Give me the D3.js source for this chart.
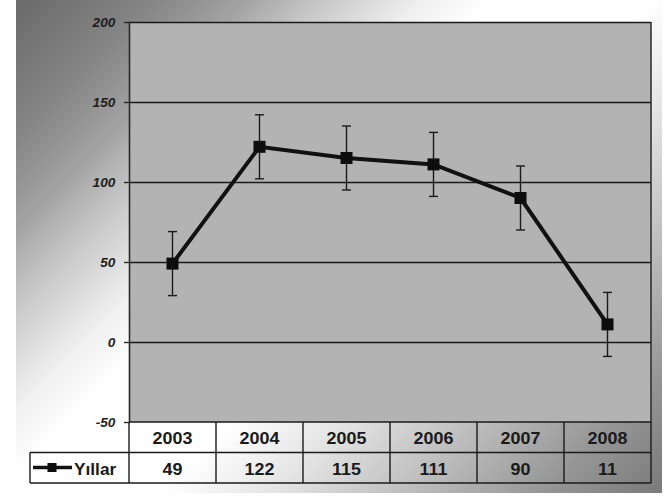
<!DOCTYPE html>
<html>
<head>
<meta charset="utf-8">
<script src="https://cdn.jsdelivr.net/npm/d3@7"></script>
<style>
  html, body { margin: 0; padding: 0; background: #ffffff; }
  svg { display: block; }
  text { font-family: "Liberation Sans", Arial, sans-serif; }
</style>
</head>
<body>
<svg id="chart" width="665" height="497"></svg>
<script>
// Yearly values with fixed ±20 error bars
const years = ["2003", "2004", "2005", "2006", "2007", "2008"];
const values = [49, 122, 115, 111, 90, 11];
const errors = [20, 20, 20, 20, 20, 20];
const yTicks = [-50, 0, 50, 100, 150, 200];
const seriesName = "Yıllar";

const svg = d3.select("#chart");
const W = 665, H = 497;

// Layout
const bg = { x: 16, y: 0, w: 646, h: 493 };
const plot = { left: 129, right: 651, top: 22, bottom: 422 };
const table = { legendLeft: 30, rowH: 30.5 };

// Diagonal grey-white-grey backdrop
const defs = svg.append("defs");
const grad = defs.append("linearGradient")
  .attr("id", "bgGrad")
  .attr("gradientUnits", "userSpaceOnUse")
  .attr("x1", bg.x).attr("y1", bg.y)
  .attr("x2", bg.x + 569).attr("y2", bg.y + 569);
[
  [0.00, "#6a6a6a"], [0.12, "#858585"], [0.20, "#a2a2a2"], [0.27, "#c8c8c8"],
  [0.36, "#f0f0f0"], [0.42, "#ffffff"], [0.56, "#ffffff"], [0.66, "#e4e4e4"],
  [0.75, "#c6c6c6"], [0.90, "#959595"], [1.00, "#7a7a7a"]
].forEach(([o, c]) => grad.append("stop").attr("offset", o).attr("stop-color", c));

svg.append("rect").attr("width", W).attr("height", H).attr("fill", "#ffffff");
svg.append("rect")
  .attr("x", bg.x).attr("y", bg.y).attr("width", bg.w).attr("height", bg.h)
  .attr("fill", "url(#bgGrad)");

// Scales
const x = d3.scaleBand().domain(years).range([plot.left, plot.right]).padding(0);
const y = d3.scaleLinear().domain([-50, 200]).range([plot.bottom, plot.top]);

// Plot area
svg.append("rect")
  .attr("x", plot.left).attr("y", plot.top)
  .attr("width", plot.right - plot.left).attr("height", plot.bottom - plot.top)
  .attr("fill", "#b3b3b3");

// Horizontal gridlines
const grid = svg.append("g")
  .attr("transform", `translate(${plot.left},0)`)
  .call(d3.axisLeft(y).tickValues(yTicks.filter(t => t > -50))
    .tickSize(-(plot.right - plot.left)).tickFormat(""));
grid.select(".domain").remove();
grid.selectAll(".tick line").attr("stroke", "#1a1a1a").attr("stroke-width", 1.6);

// Right border
svg.append("line")
  .attr("x1", plot.right).attr("x2", plot.right)
  .attr("y1", plot.top).attr("y2", plot.bottom)
  .attr("stroke", "#2a2a2a").attr("stroke-width", 1.5);

// Y axis with ticks and labels (plain hyphen for negatives)
const yAxis = svg.append("g")
  .attr("transform", `translate(${plot.left},0)`)
  .call(d3.axisLeft(y).tickValues(yTicks).tickSize(5).tickSizeOuter(0).tickPadding(8)
    .tickFormat(d => String(d)));
yAxis.select(".domain").attr("stroke", "#2a2a2a").attr("stroke-width", 1.6);
yAxis.selectAll(".tick line").attr("stroke", "#2a2a2a").attr("stroke-width", 1.4);
yAxis.selectAll(".tick text")
  .attr("font-size", 13)
  .attr("font-weight", "bold")
  .attr("font-style", "italic")
  .attr("fill", "#1e1e1e")
  .attr("dy", "0.36em")
  .attr("transform", "scale(1.05,1)");

// Error bars
const eb = svg.append("g");
years.forEach((yr, i) => {
  const cx = x(yr) + x.bandwidth() / 2;
  const yHi = y(values[i] + errors[i]);
  const yLo = y(values[i] - errors[i]);
  eb.append("line").attr("x1", cx).attr("x2", cx).attr("y1", yHi).attr("y2", yLo)
    .attr("stroke", "#1a1a1a").attr("stroke-width", 1.4);
  [yHi, yLo].forEach(yy => eb.append("line")
    .attr("x1", cx - 4.5).attr("x2", cx + 4.5).attr("y1", yy).attr("y2", yy)
    .attr("stroke", "#1a1a1a").attr("stroke-width", 1.4));
});

// Data line and square markers
const pts = years.map((yr, i) => [x(yr) + x.bandwidth() / 2, y(values[i])]);
svg.append("path")
  .attr("d", d3.line()(pts))
  .attr("fill", "none")
  .attr("stroke", "#111111")
  .attr("stroke-width", 4)
  .attr("stroke-linejoin", "miter");
svg.append("g").selectAll("rect").data(pts).join("rect")
  .attr("x", d => d[0] - 6).attr("y", d => d[1] - 6)
  .attr("width", 12).attr("height", 12)
  .attr("fill", "#0d0d0d");

// Data table beneath the plot
const row1Top = plot.bottom, row2Top = plot.bottom + table.rowH, row2Bot = plot.bottom + 2 * table.rowH;
const tg = svg.append("g");
const tStroke = "#1a1a1a";
// Horizontal rules
tg.append("line").attr("x1", plot.left).attr("x2", plot.right).attr("y1", row1Top).attr("y2", row1Top)
  .attr("stroke", tStroke).attr("stroke-width", 1.6);
tg.append("line").attr("x1", table.legendLeft).attr("x2", plot.right).attr("y1", row2Top).attr("y2", row2Top)
  .attr("stroke", tStroke).attr("stroke-width", 1.4);
tg.append("line").attr("x1", table.legendLeft).attr("x2", plot.right).attr("y1", row2Bot).attr("y2", row2Bot)
  .attr("stroke", tStroke).attr("stroke-width", 1.4);
// Vertical rules
const vx = years.map(yr => x(yr)).concat([plot.right]);
vx.forEach(xx => tg.append("line").attr("x1", xx).attr("x2", xx).attr("y1", row1Top).attr("y2", row2Bot)
  .attr("stroke", tStroke).attr("stroke-width", 1.4));
tg.append("line").attr("x1", table.legendLeft).attr("x2", table.legendLeft).attr("y1", row2Top).attr("y2", row2Bot)
  .attr("stroke", tStroke).attr("stroke-width", 1.4);

function cellText(txt, cx, baseline) {
  tg.append("text")
    .attr("transform", `translate(${cx},${baseline}) scale(1.12,1)`)
    .attr("text-anchor", "middle")
    .attr("font-size", 16)
    .attr("font-weight", "bold")
    .attr("fill", "#1a1a1a")
    .text(txt);
}
years.forEach((yr, i) => {
  const cx = x(yr) + x.bandwidth() / 2;
  cellText(yr, cx, row1Top + 22);
  cellText(String(values[i]), cx, row2Top + 22);
});

// Legend key in the table
const ly = row2Top + 15;
tg.append("line").attr("x1", 33).attr("x2", 72).attr("y1", ly).attr("y2", ly)
  .attr("stroke", "#111111").attr("stroke-width", 3.5);
tg.append("rect").attr("x", 47.5).attr("y", ly - 4.5).attr("width", 9).attr("height", 9).attr("fill", "#0d0d0d");
tg.append("text")
  .attr("transform", `translate(74,${row2Top + 22}) scale(1.08,1)`)
  .attr("font-size", 16)
  .attr("font-weight", "bold")
  .attr("fill", "#1a1a1a")
  .text(seriesName);
</script>
</body>
</html>
